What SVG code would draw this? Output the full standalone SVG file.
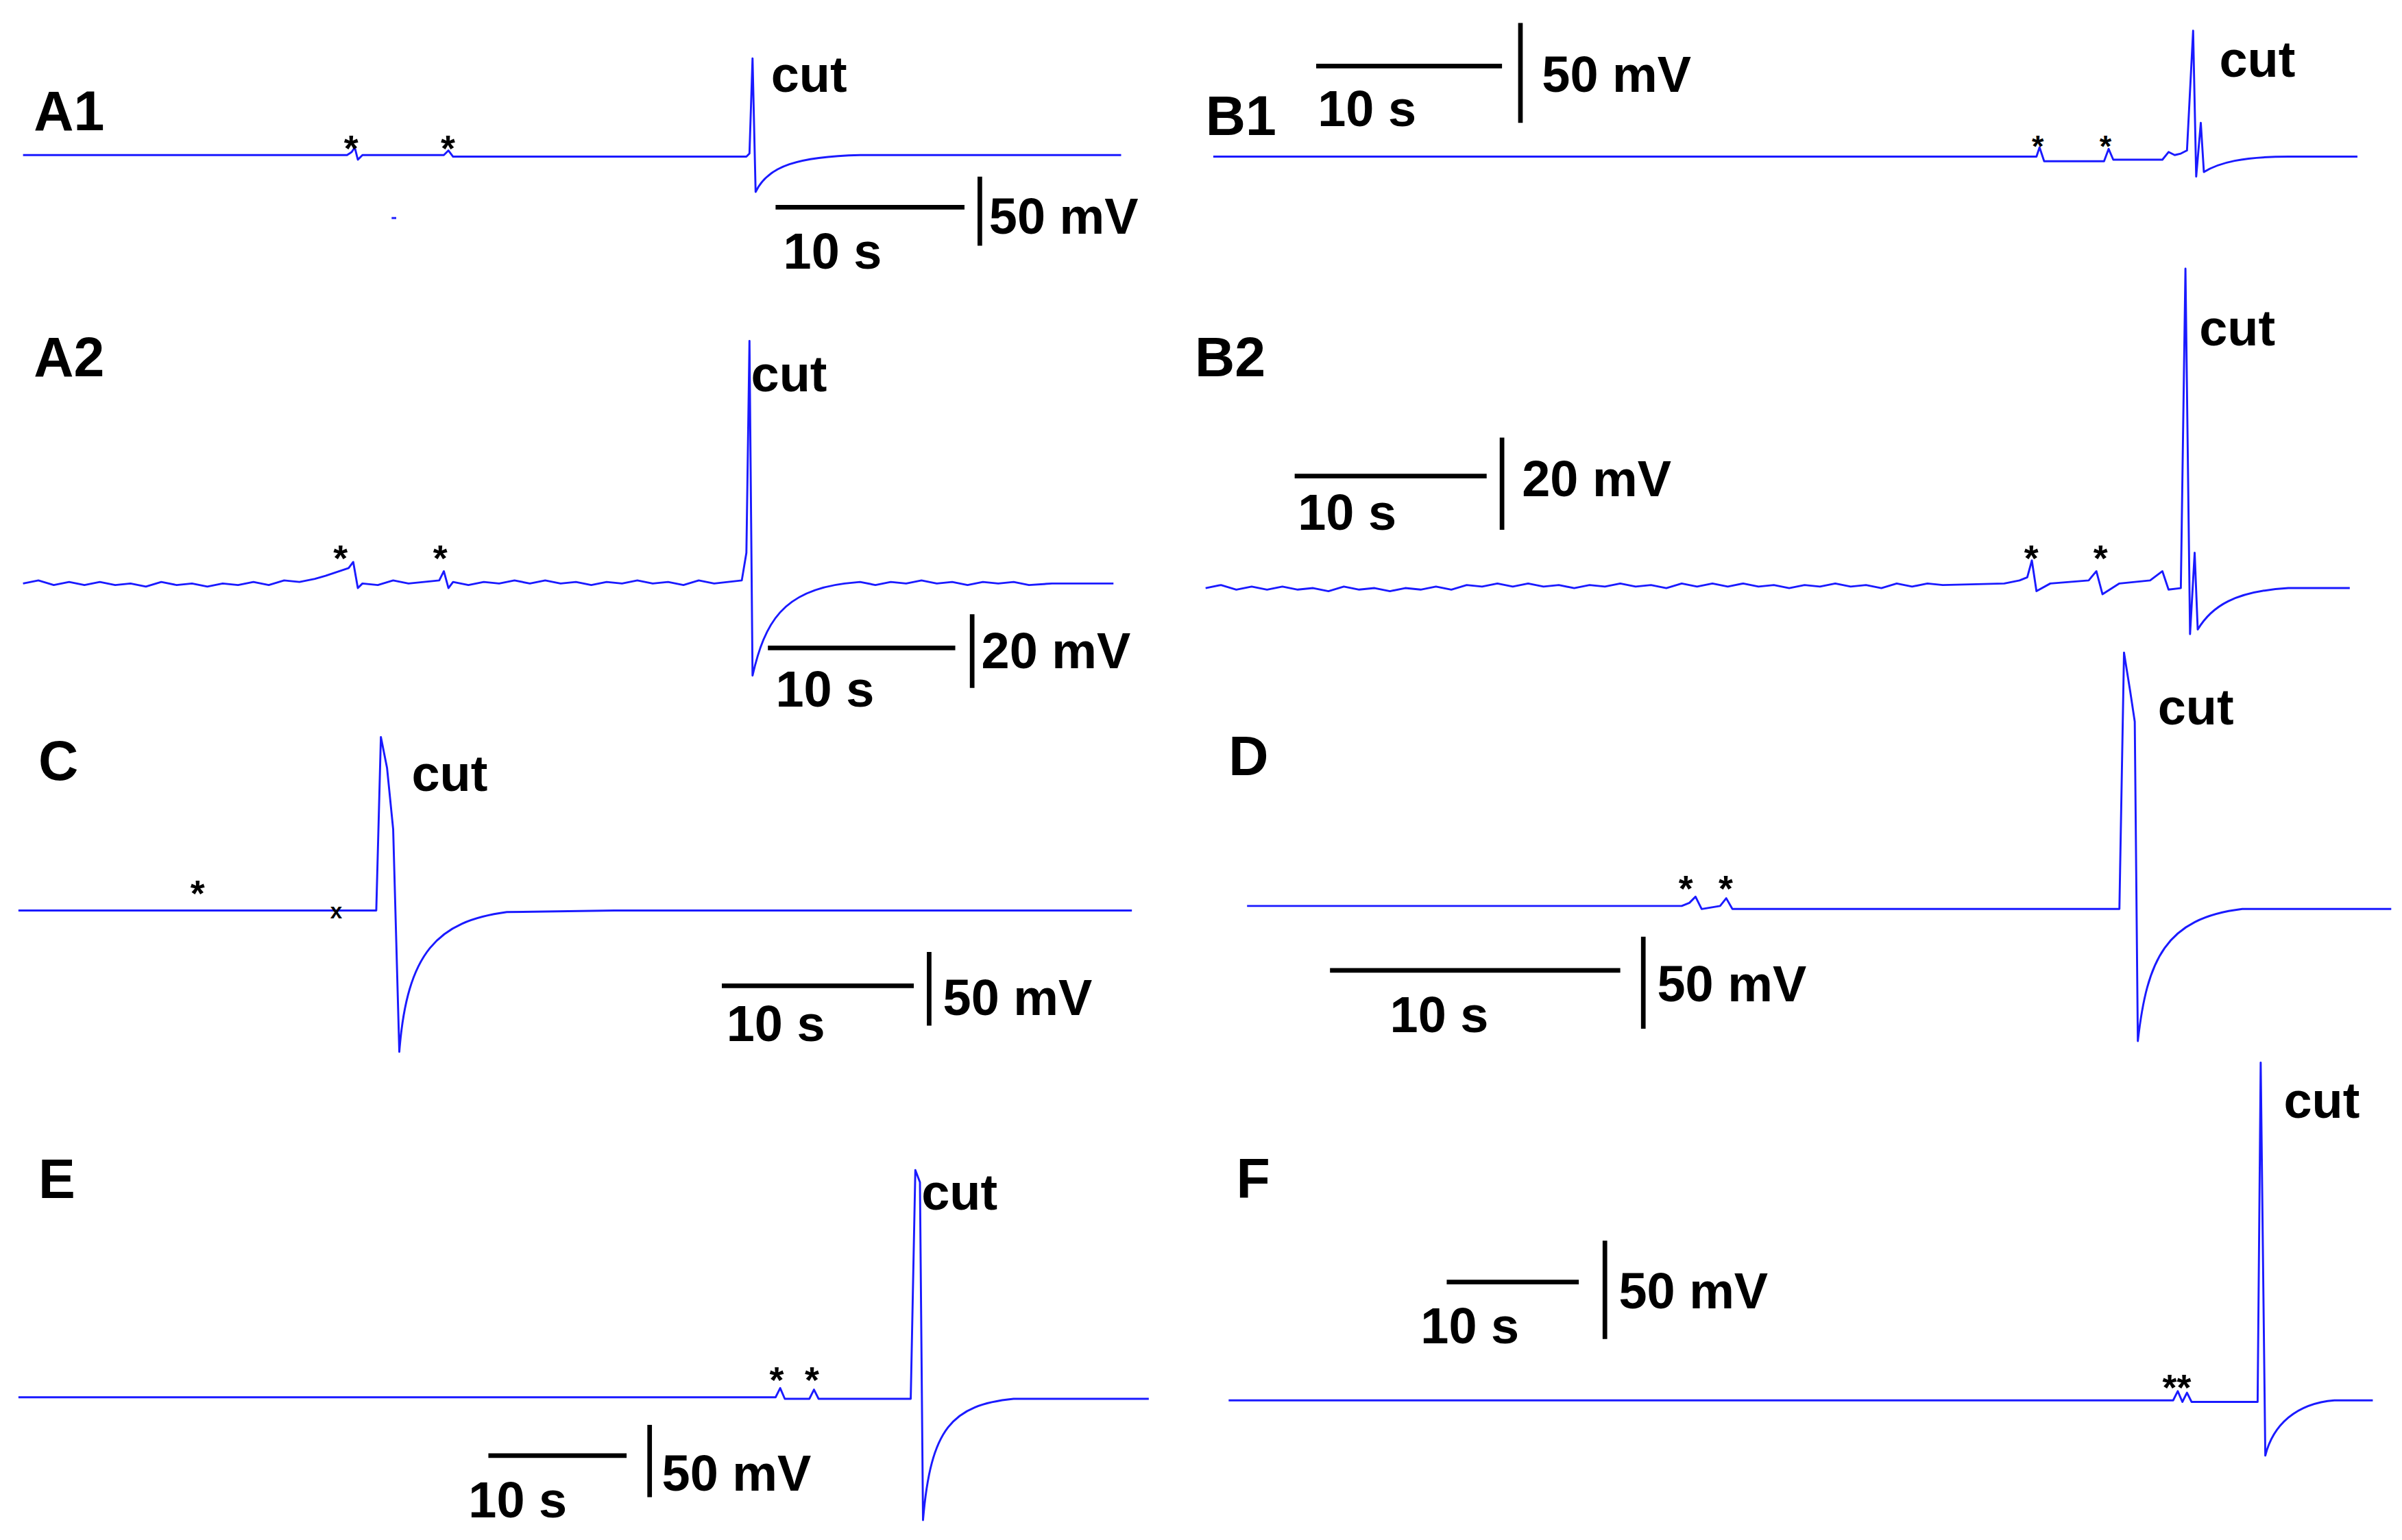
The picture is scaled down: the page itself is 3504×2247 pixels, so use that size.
<svg xmlns="http://www.w3.org/2000/svg" width="3504" height="2247" viewBox="0 0 3504 2247">
<style>
.tr{fill:none;stroke:#1a1aff;stroke-width:1.3;stroke-linejoin:round}
.bar{stroke:#000;stroke-width:3;fill:none}
.t{font-family:"Liberation Sans",Arial,sans-serif;font-weight:bold;fill:#000}
.lab{font-size:36px}
.cut{font-size:33px}
.sc{font-size:33px}
.st{font-size:24px}
</style>
<rect width="3504" height="2247" fill="#fff"/>
<g transform="scale(2.2404)">
<g id="connectors">
<path class="tr" d="M15,101 H226 L229,99 L231,96 L233,104 L236,101 H289 L292,98 L295,102 H486 L488,100 L490,38 L492,125 C500,108 520,102 560,101 H730"/>
<path class="tr" d="M15,380 l10,-2 l10,3 l10,-2 l10,2 l10,-2 l10,2 l10,-1 l10,2 l10,-3 l10,2 l10,-1 l10,2 l10,-2 l10,1 l10,-2 l10,2 l10,-3 l10,1 l10,-2 l7,-2 L227,370 L230,366 L233,383 L236,380 l10,1 l10,-3 l10,2 L286,378 L289,372 L292,383 L295,379 l10,2 l10,-2 l10,1 l10,-2 l10,2 l10,-2 l10,2 l10,-1 l10,2 l10,-2 l10,1 l10,-2 l10,2 l10,-1 l10,2 l10,-3 l10,2 L483,378 L486,360 L488,222 L490,440 C498,405 510,385 550,380 l10,-1 l10,2 l10,-2 l10,1 l10,-2 l10,2 l10,-1 l10,2 l10,-2 l10,1 l10,-1 l10,2 l15,-1 H725"/>
<path class="tr" d="M12,593 H245 L248,480 L252,500 L256,540 L260,685 C265,620 285,600 330,594 L400,593 H737"/>
<path class="tr" d="M12,910 H505 L508,904 L511,911 H527 L530,905 L533,911 H593 L596,762 L599,770 L601,990 C606,930 620,915 660,911 H748"/>
<path class="tr" d="M790,102 H1326 L1328,96 L1331,105 H1370 L1373,97 L1376,104 H1408 L1412,99 L1416,101 L1420,100 L1424,98 L1428,20 L1430,115 L1433,80 L1435,112 C1445,106 1460,102 1490,102 H1535"/>
<path class="tr" d="M785,383 l10,-2 l10,3 l10,-2 l10,2 l10,-2 l10,2 l10,-1 l10,2 l10,-3 l10,2 l10,-1 l10,2 l10,-2 l10,1 l10,-2 l10,2 l10,-3 l10,1 l10,-2 l10,2 l10,-2 l10,2 l10,-1 l10,2 l10,-2 l10,1 l10,-2 l10,2 l10,-1 l10,2 l10,-3 l10,2 l10,-2 l10,2 l10,-2 l10,2 l10,-1 l10,2 l10,-2 l10,1 l10,-2 l10,2 l10,-1 l10,2 l10,-3 l10,2 l10,-2 l10,1 L1305,380 L1315,378 L1320,376 L1323,365 L1326,385 L1335,380 L1360,378 L1365,372 L1369,387 L1380,380 L1400,378 L1408,372 L1412,384 L1420,383 L1423,175 L1426,413 L1429,360 L1431,410 C1440,395 1455,385 1490,383 H1530"/>
<path class="tr" d="M812,590 H1095 L1100,588 L1104,584 L1108,592 L1120,590 L1124,585 L1128,592 H1380 L1383,425 L1387,450 L1390,470 L1392,678 C1398,625 1410,598 1460,592 H1557"/>
<path class="tr" d="M800,912 H1415 L1418,906 L1421,913 L1424,907 L1427,913 H1470 L1472,692 L1475,948 C1480,928 1495,914 1520,912 H1545"/>
<path d="M255,142 h3" stroke="#1a1aff" stroke-width="1.3"/>
</g>
<g id="A1"><text class="t lab" x="22" y="85">A1</text><text class="t cut" x="502" y="60">cut</text><text class="t st" x="224" y="105">*</text><text class="t st" x="287" y="105">*</text><path class="bar" d="M505,135 H628 M638,115 V160"/><text class="t sc" x="644" y="152">50 mV</text><text class="t sc" x="510" y="175">10 s</text></g>
<g id="A2"><text class="t lab" x="22" y="245">A2</text><text class="t cut" x="489" y="255">cut</text><text class="t st" x="217" y="372">*</text><text class="t st" x="282" y="372">*</text><path class="bar" d="M500,422 H622 M633,400 V448"/><text class="t sc" x="639" y="435">20 mV</text><text class="t sc" x="505" y="460">10 s</text></g>
<g id="C"><text class="t lab" x="25" y="508">C</text><text class="t cut" x="268" y="515">cut</text><text class="t st" x="124" y="590">*</text><text class="t" font-size="14" x="215" y="598">x</text><path class="bar" d="M470,642 H595 M605,620 V668"/><text class="t sc" x="614" y="661">50 mV</text><text class="t sc" x="473" y="678">10 s</text></g>
<g id="E"><text class="t lab" x="25" y="780">E</text><text class="t cut" x="600" y="788">cut</text><text class="t st" x="501" y="907">*</text><text class="t st" x="524" y="907">*</text><path class="bar" d="M318,948 H408 M423,928 V975"/><text class="t sc" x="431" y="971">50 mV</text><text class="t sc" x="305" y="988">10 s</text></g>
<g id="B1"><text class="t lab" x="785" y="88">B1</text><text class="t cut" x="1445" y="50">cut</text><text class="t" font-size="20" x="1323" y="102">*</text><text class="t" font-size="20" x="1367" y="102">*</text><path class="bar" d="M857,43 H978 M990,15 V80"/><text class="t sc" x="1004" y="60">50 mV</text><text class="t sc" x="858" y="82">10 s</text></g>
<g id="B2"><text class="t lab" x="778" y="245">B2</text><text class="t cut" x="1432" y="225">cut</text><text class="t st" x="1318" y="372">*</text><text class="t st" x="1363" y="372">*</text><path class="bar" d="M843,310 H968 M978,285 V345"/><text class="t sc" x="991" y="323">20 mV</text><text class="t sc" x="845" y="345">10 s</text></g>
<g id="D"><text class="t lab" x="800" y="505">D</text><text class="t cut" x="1405" y="472">cut</text><text class="t st" x="1093" y="587">*</text><text class="t st" x="1119" y="587">*</text><path class="bar" d="M866,632 H1055 M1070,610 V670"/><text class="t sc" x="1079" y="652">50 mV</text><text class="t sc" x="905" y="672">10 s</text></g>
<g id="F"><text class="t lab" x="805" y="780">F</text><text class="t cut" x="1487" y="728">cut</text><text class="t st" x="1408" y="912">**</text><path class="bar" d="M942,835 H1028 M1045,808 V872"/><text class="t sc" x="1054" y="852">50 mV</text><text class="t sc" x="925" y="875">10 s</text></g>
</g>
</svg>
